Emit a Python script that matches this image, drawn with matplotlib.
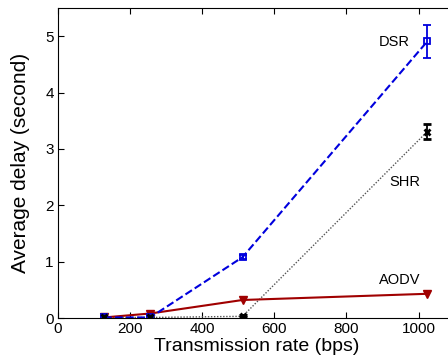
import matplotlib
matplotlib.use("Agg")
import matplotlib.pyplot as plt

rates = [128, 256, 512, 1024]
dsr = [0.01, 0.01, 1.08, 4.91]
dsr_err = [0.02, 0.02, 0.04, 0.29]
shr = [0.01, 0.01, 0.03, 3.31]
shr_err = [0.0, 0.0, 0.02, 0.14]
aodv = [0.01, 0.08, 0.32, 0.43]

plt.rcParams['font.family'] = ['Liberation Sans', 'DejaVu Sans']

fig = plt.figure(figsize=(4.48, 3.62), dpi=100)
ax = fig.add_axes([0.129, 0.1215, 0.886, 0.856])

ax.errorbar(rates, dsr, yerr=dsr_err, color='#0000dd', ls='--', lw=1.5,
            marker='s', ms=4, mfc='none', mew=1.3, capsize=3, elinewidth=1.3)
ax.plot(rates, shr, color='#555555', ls=(0, (1, 1.2)), lw=1.0)
ax.errorbar(rates, shr, yerr=shr_err, color='black', ls='none',
            marker='x', ms=5, mew=2, capsize=3, elinewidth=1.3)
ax.plot(rates, aodv, color='#a00000', ls='-', lw=1.5, marker='v', ms=6)

ax.text(933, 4.9, 'DSR', fontsize=10.5, va='center', ha='center')
ax.text(961, 2.41, 'SHR', fontsize=10.5, va='center', ha='center')
ax.text(947, 0.67, 'AODV', fontsize=10.5, va='center', ha='center')

ax.set_xlim(0, 1100)
ax.set_ylim(0, 5.5)
ax.set_xticks([0, 200, 400, 600, 800, 1000])
ax.set_yticks([0, 1, 2, 3, 4, 5])
ax.spines['right'].set_visible(False)
ax.tick_params(direction='in', top=True, labelsize=11, length=4, pad=3)
ax.set_xlabel('Transmission rate (bps)', fontsize=14, labelpad=1)
ax.set_ylabel('Average delay (second)', fontsize=15, labelpad=11)

fig.savefig('out.png', dpi=100)
